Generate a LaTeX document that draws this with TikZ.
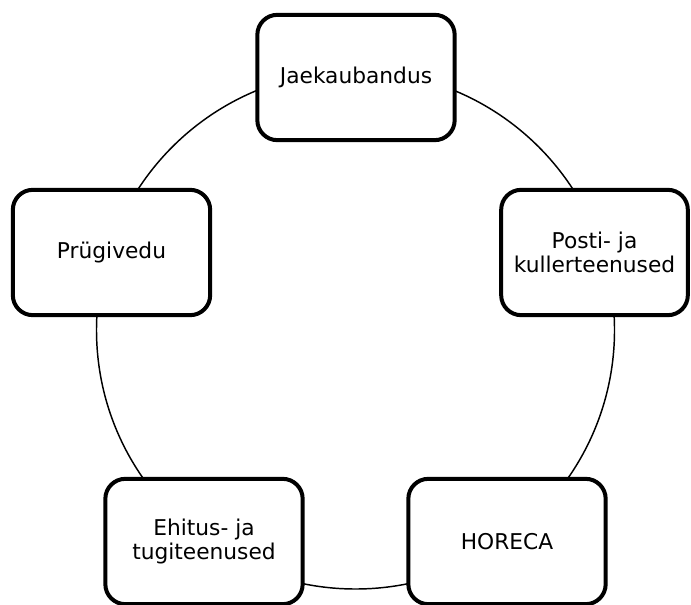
\documentclass[tikz,border=0pt]{standalone}
\usepackage{fontspec}
\setmainfont{DejaVu Sans}
\usepackage{tikz}

\begin{document}
\begin{tikzpicture}[
    x=0.75pt, y=-0.75pt,
    box/.style={rectangle, draw=black, fill=white, line width=3pt, rounded corners=15pt, minimum width=148pt, minimum height=94pt, align=center, font=\fontsize{16.3}{17.5}\selectfont},
    ring/.style={draw=black, line width=1.1pt}
]
\useasboundingbox (0,0) rectangle (691,605);
\coordinate (hub) at (355.5,330);
\draw[ring] (hub) circle[radius=259];

\node[box] (jaekaubandus) at (356,77.5) {Jaekaubandus};
\node[box, minimum width=140pt] (posti) at (594.5,252.5) {Posti- ja\\kullerteenused};
\node[box] (horeca) at (507,541.5) {HORECA};
\node[box] (ehitus) at (204,541.5) {Ehitus- ja\\tugiteenused};
\node[box] (prugivedu) at (111.5,252.5) {Prügivedu};
\end{tikzpicture}
\end{document}
